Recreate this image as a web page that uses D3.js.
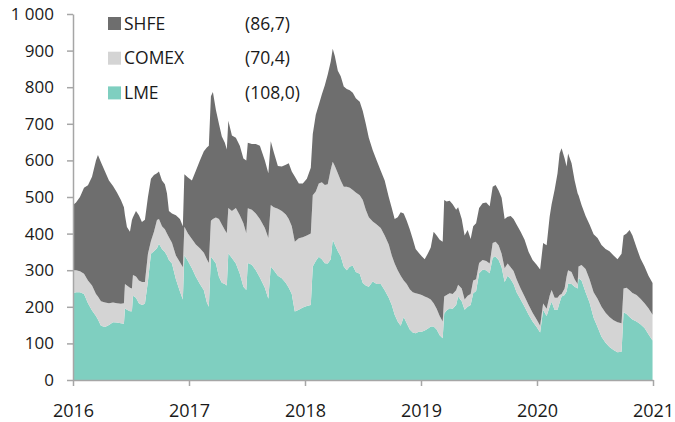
<!DOCTYPE html>
<html lang="en">
<head>
<meta charset="UTF-8">
<title>Stocks by exchange</title>
<script src="https://d3js.org/d3.v7.min.js"></script>
<style>
  body { margin: 0; background: #fff; }
  svg text { font-family: "Open Sans", "DejaVu Sans", sans-serif; fill: #1a1a1a; }
</style>
</head>
<body>
<div id="chart"></div>
<script>
// decimal years
const years = [2016.000,2016.026,2016.060,2016.095,2016.129,2016.164,2016.198,2016.215,2016.241,2016.276,
  2016.310,2016.345,2016.379,2016.413,2016.439,2016.448,2016.465,2016.491,2016.508,2016.517,
  2016.543,2016.568,2016.594,2016.620,2016.646,2016.672,2016.698,2016.724,2016.741,2016.767,
  2016.792,2016.810,2016.827,2016.853,2016.887,2016.922,2016.947,2016.960,2016.991,
  2017.025,2017.059,2017.094,2017.128,2017.154,2017.171,2017.189,2017.206,2017.232,2017.258,
  2017.283,2017.309,2017.326,2017.339,2017.370,2017.404,2017.438,2017.469,2017.494,2017.507,
  2017.542,2017.576,2017.611,2017.654,2017.684,2017.705,2017.731,2017.766,2017.800,2017.835,
  2017.860,2017.886,2017.912,2017.947,2017.981,
  2018.016,2018.050,2018.067,2018.093,2018.119,2018.145,2018.171,2018.196,2018.222,2018.239,
  2018.257,2018.283,2018.308,2018.334,2018.360,2018.386,2018.412,2018.438,2018.472,2018.498,
  2018.524,2018.550,2018.584,2018.618,2018.653,2018.687,2018.722,2018.748,2018.773,2018.799,
  2018.825,2018.851,2018.877,2018.903,2018.929,2018.954,2018.980,
  2019.006,2019.032,2019.058,2019.084,2019.109,2019.135,2019.161,2019.187,2019.200,2019.221,
  2019.247,2019.273,2019.303,2019.320,2019.351,2019.376,2019.402,2019.428,2019.450,2019.475,
  2019.501,2019.531,2019.562,2019.592,2019.618,2019.643,2019.669,2019.695,2019.721,2019.747,
  2019.773,2019.798,2019.824,2019.859,2019.893,2019.928,2019.962,2019.997,
  2020.027,2020.053,2020.083,2020.109,2020.126,2020.152,2020.177,2020.195,2020.212,2020.238,
  2020.255,2020.268,2020.298,2020.324,2020.350,2020.358,2020.384,2020.419,2020.453,2020.488,
  2020.522,2020.556,2020.591,2020.625,2020.660,2020.694,2020.729,2020.746,2020.772,2020.798,
  2020.823,2020.858,2020.892,2020.927,2020.961,2020.996];

const lme = [237,240,240,235,210,190,175,165,148,145,
  150,158,157,155,154,196,192,188,188,230,
  225,210,205,208,270,345,352,360,372,358,
  350,340,328,318,275,242,220,341,325,
  305,282,262,245,212,200,337,330,318,282,
  266,262,258,346,333,318,290,255,246,320,
  315,300,280,252,222,310,300,285,278,265,
  252,235,187,192,198,
  202,205,310,325,337,330,319,318,330,383,
  370,352,338,310,300,310,312,295,290,265,
  258,255,269,262,262,245,225,205,178,160,
  148,172,155,138,130,128,132,
  132,135,140,146,146,138,122,114,182,190,
  196,195,205,228,215,192,200,205,237,243,
  292,301,300,292,335,337,328,308,268,285,
  275,262,240,220,200,178,160,145,
  130,191,175,200,214,191,192,212,228,232,
  242,264,262,255,250,278,272,240,212,170,
  145,118,102,90,82,76,77,185,180,172,
  165,160,152,142,125,108.0];

const comex = [63,60,57,55,62,68,60,63,67,67,
  60,54,53,53,56,66,66,64,62,57,
  58,62,63,60,75,35,53,77,68,62,
  62,60,62,57,65,80,88,78,75,
  80,88,98,103,118,120,98,110,126,158,
  159,148,143,124,129,152,160,173,155,149,
  150,155,160,163,166,168,172,183,184,187,
  188,185,191,195,192,
  193,195,195,190,200,210,214,217,245,213,
  215,213,207,218,228,215,207,217,215,227,
  207,190,164,163,153,150,145,135,140,140,
  137,100,107,110,110,109,103,
  100,93,85,74,64,57,53,46,46,42,
  41,40,40,32,35,28,30,30,35,32,
  28,27,25,26,39,41,40,37,37,33,
  33,36,35,30,28,27,24,20,
  18,18,20,30,32,34,33,20,7,18,
  40,36,33,20,12,32,42,63,63,70,
  77,82,82,82,81,82,78,65,72,73,
  73,72,70,68,71,70.4];

const shfe = [178,185,203,235,260,297,365,387,380,358,
  335,318,302,284,262,188,160,153,187,158,
  179,178,164,170,155,170,155,128,130,125,
  123,110,72,80,110,118,112,143,153,
  160,202,240,277,305,320,340,347,294,260,
  240,238,229,238,206,192,190,177,199,179,
  180,190,200,185,177,174,150,117,121,136,
  152,150,178,150,147,
  155,180,167,210,215,240,272,300,295,309,
  300,280,285,274,267,267,266,258,255,243,
  235,217,195,175,157,150,130,130,122,145,
  173,183,173,164,145,121,113,
  106,102,120,142,195,200,208,218,264,256,
  253,245,220,212,190,175,180,150,148,153,
  150,155,160,157,154,155,150,153,135,128,
  140,142,150,155,155,145,144,150,
  154,165,173,216,234,295,340,387,398,355,
  301,319,297,271,248,195,164,145,150,158,
  166,169,174,180,177,172,190,145,148,165,
  157,130,110,100,89,86.7];

const seriesNames = ["LME", "COMEX", "SHFE"];
const colors = {LME: "#7fcfc0", COMEX: "#d4d4d4", SHFE: "#6e6e6e"};
const yTicks = [0,100,200,300,400,500,600,700,800,900,1000];
const xTicks = [2016,2017,2018,2019,2020,2021];

const W = 675, H = 422;
const margin = {top: 14, right: 22, bottom: 42, left: 73};

const locale = d3.formatLocale({decimal: ",", thousands: "\u00a0", grouping: [3], currency: ["", ""]});
const yFmt = locale.format(",d");
const valFmt = locale.format(".1f");

const rows = years.map((t, i) => ({t: t, LME: lme[i], COMEX: comex[i], SHFE: shfe[i]}));
const stacked = d3.stack().keys(seriesNames)(rows);

const x = d3.scaleLinear().domain([2016, 2021]).range([margin.left, W - margin.right]);
const y = d3.scaleLinear().domain([0, 1000]).range([H - margin.bottom, margin.top]);

const svg = d3.select("#chart").append("svg")
  .attr("width", W).attr("height", H);

const area = d3.area()
  .x(d => x(d.data.t))
  .y0(d => y(d[0]))
  .y1(d => y(d[1]));

svg.append("g").selectAll("path")
  .data(stacked)
  .join("path")
  .attr("fill", d => colors[d.key])
  .attr("d", area);

// axes
const yAxis = svg.append("g")
  .attr("transform", `translate(${margin.left},0)`)
  .call(d3.axisLeft(y).tickValues(yTicks).tickFormat(yFmt).tickSize(6).tickPadding(13).tickSizeOuter(0));
const xAxis = svg.append("g")
  .attr("transform", `translate(0,${H - margin.bottom})`)
  .call(d3.axisBottom(x).tickValues(xTicks).tickFormat(d3.format("d")).tickSize(6).tickPadding(18).tickSizeOuter(0));

[yAxis, xAxis].forEach(g => {
  g.select(".domain").attr("stroke", "#a6a6a6").attr("stroke-width", 1.5);
  g.selectAll(".tick line").attr("stroke", "#a6a6a6").attr("stroke-width", 1.5);
  g.selectAll(".tick text").attr("font-size", 17).attr("fill", "#1a1a1a");
});
xAxis.selectAll(".tick text").attr("font-size", 18);

// legend, values = latest reading of each series
const legendItems = seriesNames.slice().reverse().map(k => {
  const s = stacked.find(d => d.key === k);
  const last = s[s.length - 1];
  return {key: k, value: last[1] - last[0]};
});

const legend = svg.append("g").attr("transform", "translate(108,17)");
const li = legend.selectAll("g")
  .data(legendItems)
  .join("g")
  .attr("transform", (d, i) => `translate(0,${i * 34.7})`);

li.append("rect")
  .attr("width", 13).attr("height", 13)
  .attr("fill", d => colors[d.key]);
li.append("text")
  .attr("x", 16).attr("y", 12.5)
  .attr("font-size", 17.5)
  .text(d => d.key);
li.append("text")
  .attr("x", 137).attr("y", 12.5)
  .attr("font-size", 17.5)
  .text(d => "(" + valFmt(d.value) + ")");
</script>
</body>
</html>
